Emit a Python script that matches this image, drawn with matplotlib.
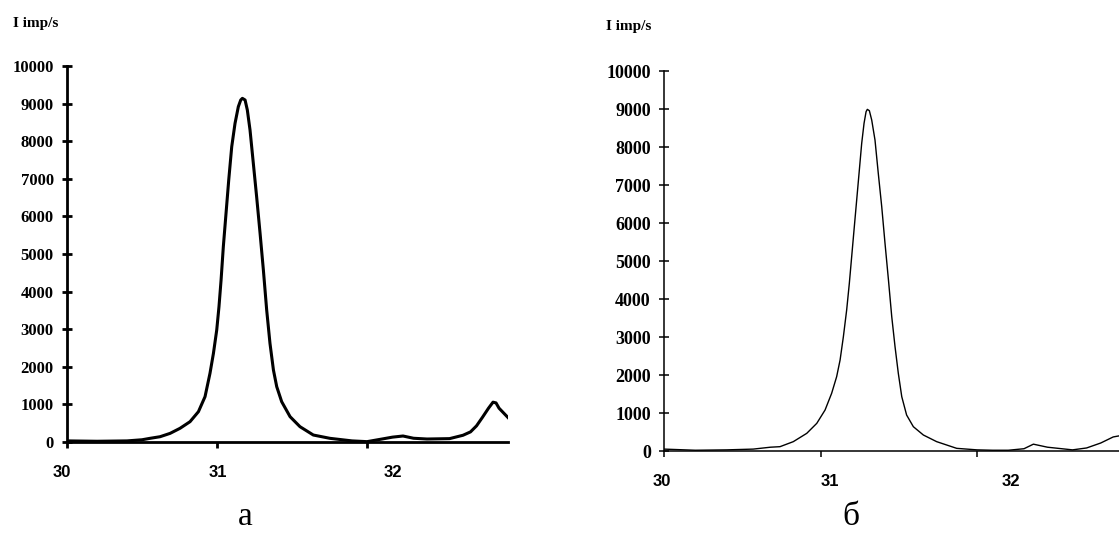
import numpy as np
import matplotlib
matplotlib.use("Agg")
import matplotlib.pyplot as plt

# panel a
theta_a = [30.0, 30.2, 30.4, 30.5, 30.553, 30.62, 30.687, 30.753, 30.82, 30.876,
           30.92, 30.953, 30.976, 30.998, 31.013, 31.027, 31.042, 31.06, 31.078,
           31.098, 31.12, 31.142, 31.158, 31.169, 31.187, 31.202, 31.22, 31.242,
           31.264, 31.287, 31.309, 31.331, 31.353, 31.376, 31.398, 31.431, 31.487,
           31.553, 31.642, 31.753, 31.9, 32.0, 32.1, 32.17, 32.24, 32.31, 32.4,
           32.55, 32.64, 32.69, 32.73, 32.77, 32.81, 32.84, 32.86, 32.88, 32.94]
inten_a = [30, 20, 30, 60, 98, 141, 230, 364, 541, 807,
           1206, 1826, 2358, 2979, 3599, 4309, 5195, 6082, 6968,
           7855, 8475, 8918, 9096, 9140, 9096, 8830, 8298, 7411,
           6525, 5550, 4574, 3511, 2624, 1915, 1472, 1073, 674,
           408, 186, 98, 30, 10, 80, 130, 160, 100, 80,
           90, 180, 270, 430, 660, 900, 1060, 1040, 900, 650]

# panel б
theta_b = [30.0, 30.2, 30.4, 30.57, 30.68, 30.741, 30.826, 30.912, 30.976, 31.029,
           31.071, 31.103, 31.125, 31.146, 31.167, 31.184, 31.199, 31.214, 31.231,
           31.248, 31.263, 31.278, 31.291, 31.299, 31.312, 31.327, 31.348, 31.369,
           31.391, 31.412, 31.434, 31.455, 31.476, 31.497, 31.519, 31.55, 31.593,
           31.657, 31.742, 31.87, 32.0, 32.1, 32.2, 32.3, 32.36, 32.45, 32.61,
           32.7, 32.79, 32.87, 32.91]
inten_b = [50, 20, 30, 50, 100, 114, 246, 465, 728, 1079,
           1518, 1956, 2395, 3009, 3711, 4412, 5114, 5816, 6605,
           7395, 8096, 8623, 8930, 8991, 8956, 8711, 8184, 7307,
           6430, 5465, 4500, 3535, 2746, 2044, 1430, 947, 640,
           421, 246, 70, 30, 20, 20, 60, 180, 100, 30,
           80, 210, 370, 400]

yticks = list(range(0, 10001, 1000))
xticks = [30, 31, 32]
xlabels = ["30", "31", "32"]

serif_bold = dict(family="Liberation Serif", weight="bold")
sans_bold = dict(family="Liberation Sans", weight="bold")

fig = plt.figure(figsize=(11.19, 5.38), dpi=100)

panels = [
    # rect, xmax, data, line width, spine width, ytick size, label offsets, letter
    ([0.0599, 0.1784, 0.3941, 0.6989], 32.94, theta_a, inten_a, 2.2, 2.0, 12,
     [29.967, 31.007, 32.173], (0.0116, 0.957), 245, "а"),
    ([0.5934, 0.1617, 0.4066, 0.7063], 32.907, theta_b, inten_b, 1.0, 1.1, 13,
     [29.987, 31.06, 32.217], (0.542, 0.95), 851, "б"),
]

for rect, xmax, th, it, lw, sw, fs, lab_x, ylab_pos, letter_x, letter in panels:
    ax = fig.add_axes(rect)
    ax.plot(th, it, color="black", lw=lw, solid_joinstyle="round")
    ax.set_xlim(30, xmax)
    ax.set_ylim(0, 10000)
    for s in ["top", "right"]:
        ax.spines[s].set_visible(False)
    for s in ["left", "bottom"]:
        ax.spines[s].set_linewidth(sw)
    ax.set_yticks(yticks)
    ax.set_yticklabels([str(v) for v in yticks], fontsize=fs, **serif_bold)
    ax.tick_params(axis="y", direction="inout", length=7, width=sw, pad=6)
    ax.set_xticks(xticks)
    ax.set_xticklabels([])
    ax.tick_params(axis="x", direction="out", length=4, width=sw)
    for xv, lb in zip(lab_x, xlabels):
        ax.text(xv, -0.08, lb, transform=ax.get_xaxis_transform(),
                ha="center", va="center", fontsize=12, clip_on=False, **sans_bold)
    fig.text(ylab_pos[0], ylab_pos[1], "I imp/s", ha="left", va="center",
             fontsize=11, **serif_bold)
    fig.text(letter_x / 1119, 1 - 517 / 538, letter, ha="center", va="center",
             fontsize=24, family="Liberation Serif")

fig.savefig("out.png", dpi=100)
